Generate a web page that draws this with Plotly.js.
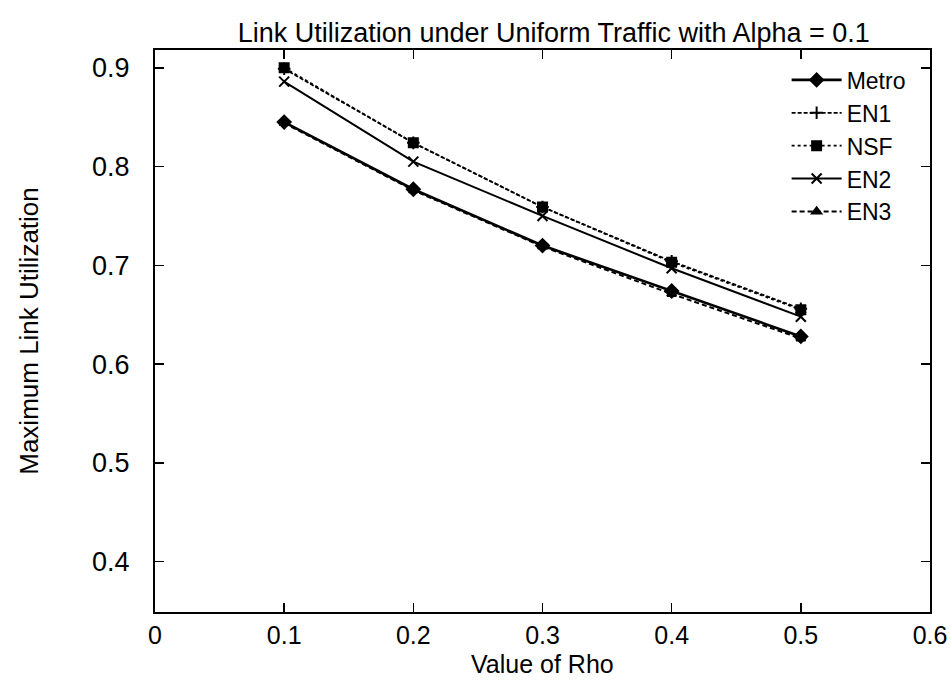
<!DOCTYPE html>
<html>
<head>
<meta charset="utf-8">
<script src="https://cdn.plot.ly/plotly-3.0.1.min.js"></script>
<style>html,body{margin:0;padding:0;background:#fff;}#chart{width:950px;height:684px;}</style>
</head>
<body>
<div id="chart"></div>
<script>
const rho = [0.1, 0.2, 0.3, 0.4, 0.5];
const seriesNames = ["Metro", "EN1", "NSF", "EN2", "EN3"];
const metro = [0.845, 0.777, 0.720, 0.674, 0.628];
const en1   = [0.899, 0.824, 0.759, 0.704, 0.656];
const nsf   = [0.900, 0.824, 0.759, 0.703, 0.655];
const en2   = [0.886, 0.805, 0.750, 0.697, 0.648];
const en3   = [0.844, 0.776, 0.719, 0.671, 0.626];
const xTicks = [0, 0.1, 0.2, 0.3, 0.4, 0.5, 0.6];
const xTickText = ["0", "0.1", "0.2", "0.3", "0.4", "0.5", "0.6"];
const yTicks = [0.4, 0.5, 0.6, 0.7, 0.8, 0.9];
const yTickText = ["0.4", "0.5", "0.6", "0.7", "0.8", "0.9"];
const xTitle = "Value of Rho";
const yTitle = "Maximum Link Utilization";
const chartTitle = "Link Utilization under Uniform Traffic with Alpha = 0.1";

const FONT = "Liberation Sans, Arial, Helvetica, sans-serif";
const styles = [
  {dash: "solid", symbol: "diamond", size: 10, width: 2.6},
  {dash: "4px,2px", symbol: "cross-thin-open", size: 9, width: 1.8},
  {dash: "dot", symbol: "square", size: 9, width: 1.8},
  {dash: "solid", symbol: "x-thin-open", size: 10, width: 2},
  {dash: "5px,3px", symbol: "triangle-up", size: 8, width: 2}
];
const data = [metro, en1, nsf, en2, en3];
const traces = data.map((ys, i) => ({
  x: rho, y: ys, name: seriesNames[i], type: "scatter", mode: "lines+markers",
  line: {color: "#000", width: styles[i].width, dash: styles[i].dash},
  marker: {color: "#000", symbol: styles[i].symbol, size: styles[i].size,
           line: {color: "#000", width: 2}}
}));

const layout = {
  width: 950, height: 684,
  paper_bgcolor: "#fff", plot_bgcolor: "#fff",
  margin: {l: 155, r: 20, t: 50, b: 72},
  font: {family: FONT, color: "#000", size: 22},
  title: {text: chartTitle,
          font: {family: FONT, size: 27, color: "#000"},
          x: 0.583, xanchor: "center", y: 0.952, yanchor: "middle"},
  showlegend: true,
  legend: {x: 0.975, xanchor: "right", y: 0.985, yanchor: "top",
           bgcolor: "rgba(0,0,0,0)", font: {family: FONT, size: 23, color: "#000"},
           tracegroupgap: 0, itemwidth: 50},
  annotations: [{text: xTitle, xref: "paper", yref: "paper", x: 0.5, y: -0.0925,
                 xanchor: "center", yanchor: "middle", showarrow: false,
                 font: {family: FONT, size: 25, color: "#000"}}],
  xaxis: {range: [0, 0.6], tickvals: xTicks, ticktext: xTickText,
          ticks: "inside", ticklen: 9, tickwidth: 1.5, tickcolor: "#000",
          showline: true, linecolor: "#000", linewidth: 2, mirror: "ticks",
          showgrid: false, zeroline: false, ticklabelstandoff: 0,
          tickfont: {family: FONT, size: 25, color: "#000"}},
  yaxis: {range: [0.349, 0.918], tickvals: yTicks, ticktext: yTickText,
          ticks: "inside", ticklen: 9, tickwidth: 1.5, tickcolor: "#000",
          showline: true, linecolor: "#000", linewidth: 2, mirror: "ticks",
          showgrid: false, zeroline: false, ticklabelstandoff: 18,
          tickfont: {family: FONT, size: 27, color: "#000"},
          title: {text: yTitle, font: {family: FONT, size: 26, color: "#000"}, standoff: 46}}
};
Plotly.newPlot("chart", traces, layout, {displayModeBar: false, staticPlot: true});
</script>
</body>
</html>
